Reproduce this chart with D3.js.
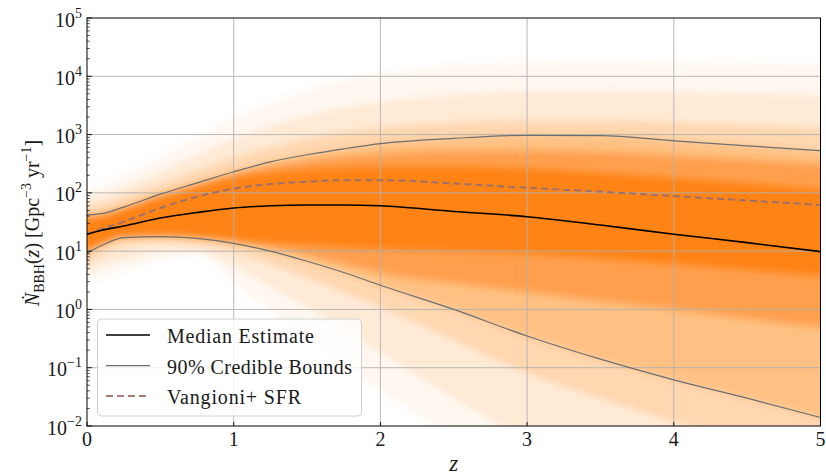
<!DOCTYPE html>
<html><head><meta charset="utf-8">
<script src="https://cdn.jsdelivr.net/npm/d3@7"></script>
<style>
body{margin:0;background:#fff}
svg{display:block}
svg text{font-family:'Liberation Serif','Times New Roman','DejaVu Serif','Noto Serif',serif;fill:#1a1a1a}
</style>
</head><body>
<svg id="c" width="826" height="475" font-family="Liberation Serif, Times New Roman, DejaVu Serif, serif"></svg>
<script>
// ---- data ----
const zGrid   = [0, 0.1, 0.25, 0.5, 0.75, 1, 1.25, 1.5, 1.75, 2, 2.5, 3, 3.5, 4, 4.5, 5];
const median  = [19.5, 22.8, 27, 37, 46, 55, 60, 62, 62, 60, 48, 39, 28, 19.5, 14, 9.8];
const upper90 = [42, 44, 57, 95, 148, 230, 340, 450, 570, 700, 860, 970, 960, 780, 640, 530];
const lower90 = [9.3, 12.5, 17, 17.8, 16.5, 13.6, 10, 6.7, 4.3, 2.6, 1.0, 0.35, 0.14, 0.062, 0.030, 0.014];
const vangioni= [19.5, 24, 32, 55, 86, 118, 142, 155, 165, 165, 145, 122, 105, 88, 74, 62];
// posterior-sample density levels, read as shading bands from the picture
const sampMax = [110, 130, 200, 400, 900, 2000, 3500, 6000, 9000, 11500, 16000, 18000, 18500, 18000, 17500, 16500];
const sampMin = [3, 3.5, 4.5, 7, 8.5, 2.8, 0.9, 0.3, 0.1, 0.04, 0.006, 0.001, 0.0005, 0.0002, 0.0001, 0.0001];
const q99     = [80, 92, 125, 230, 450, 850, 1400, 2100, 2900, 3600, 4800, 5500, 5600, 5400, 5100, 4700];
const q01     = [4.2, 5.5, 7, 10, 10, 5.5, 2.5, 1.1, 0.45, 0.18, 0.03, 0.006, 0.002, 0.001, 0.0005, 0.0002];
const q975    = [60, 66, 85, 140, 240, 400, 600, 850, 1100, 1300, 1600, 1750, 1750, 1600, 1450, 1300];
const q025    = [6, 8.5, 12, 14, 12.5, 9.5, 6, 3.5, 2, 1.1, 0.3, 0.08, 0.03, 0.012, 0.005, 0.002];
const q85     = [40, 43, 56, 92, 140, 210, 290, 360, 420, 470, 520, 530, 500, 430, 370, 310];
const q15     = [9.8, 13, 17.2, 18, 17, 14.5, 11.5, 8.5, 6, 4.2, 2.8, 2.0, 1.4, 1.0, 0.7, 0.5];
const q70     = [36, 39, 50, 82, 125, 180, 220, 250, 270, 280, 280, 260, 220, 180, 145, 115];
const q30     = [11, 14, 18, 19, 18, 15.5, 14, 13, 12, 11, 10, 9, 7.5, 6, 4.8, 3.8];
const xTicks  = [0, 1, 2, 3, 4, 5];
const yExps   = [-2, -1, 0, 1, 2, 3, 4, 5];
const legendLabels = ["Median Estimate", "90% Credible Bounds", "Vangioni+ SFR"];

// ---- layout ----
const L = 87, R = 820.5, T = 18, B = 426;
const FONT = "'Liberation Serif','Times New Roman','DejaVu Serif',serif";
const svg = d3.select("#c");
const x = d3.scaleLinear().domain([0, 5]).range([L, R]);
const y = d3.scaleLog().domain([1e-2, 1e5]).range([B, T]);
const orange = "#ff7f0e";

const defs = svg.append("defs");
defs.append("clipPath").attr("id", "clip")
  .append("rect").attr("x", L).attr("y", T).attr("width", R - L).attr("height", B - T);
defs.append("filter").attr("id", "soft").attr("x", "-2%").attr("y", "-10%").attr("width", "104%").attr("height", "120%")
  .append("feGaussianBlur").attr("stdDeviation", "0 3.5");

const clipG = svg.append("g").attr("clip-path", "url(#clip)");
const bands = clipG.append("g").attr("filter", "url(#soft)");

function band(lo, hi) {
  return d3.area()
    .x((d, i) => x(zGrid[i]))
    .y0((d, i) => y(lo[i]))
    .y1((d, i) => y(hi[i]))
    .curve(d3.curveMonotoneX)(zGrid);
}
function line(vals) {
  return d3.line()
    .x((d, i) => x(zGrid[i]))
    .y((d, i) => y(vals[i]))
    .curve(d3.curveMonotoneX)(zGrid);
}

[[sampMin, sampMax, 0.06], [q01, q99, 0.11], [q025, q975, 0.18],
 [lower90, upper90, 0.26], [q15, q85, 0.5], [q30, q70, 0.87]].forEach(([lo, hi, a]) =>
  bands.append("path").attr("d", band(lo, hi)).attr("fill", orange).attr("fill-opacity", a));

// grid
const grid = svg.append("g").attr("stroke", "#b0b0b0").attr("stroke-width", 0.9);
xTicks.slice(1, -1).forEach(t => grid.append("line")
  .attr("x1", x(t)).attr("x2", x(t)).attr("y1", T).attr("y2", B));
yExps.slice(1, -1).forEach(e => grid.append("line")
  .attr("x1", L).attr("x2", R).attr("y1", y(Math.pow(10, e))).attr("y2", y(Math.pow(10, e))));

// lines
const lines = svg.append("g").attr("clip-path", "url(#clip)");
lines.append("path").attr("d", line(upper90)).attr("fill", "none").attr("stroke", "#6e6e6e").attr("stroke-width", 1.2);
lines.append("path").attr("d", line(lower90)).attr("fill", "none").attr("stroke", "#6e6e6e").attr("stroke-width", 1.2);
lines.append("path").attr("d", line(vangioni)).attr("fill", "none").attr("stroke", "#9e7068")
  .attr("stroke-width", 2).attr("stroke-dasharray", "7,4");
lines.append("path").attr("d", line(median)).attr("fill", "none").attr("stroke", "#000").attr("stroke-width", 1.6);

// axes frame
svg.append("rect").attr("x", L).attr("y", T).attr("width", R - L).attr("height", B - T)
  .attr("fill", "none").attr("stroke", "#000").attr("stroke-width", 1);

function txt(sel) { return sel.attr("font-family", FONT).style("font-family", FONT); }

// y ticks (inward, left side)
const tk = svg.append("g").attr("stroke", "#000").attr("stroke-width", 0.9);
yExps.forEach(e => {
  const yy = y(Math.pow(10, e));
  tk.append("line").attr("x1", L).attr("x2", L + 5).attr("y1", yy).attr("y2", yy);
  if (e < 5) for (let k = 2; k <= 9; k++) {
    const ym = y(k * Math.pow(10, e));
    tk.append("line").attr("x1", L).attr("x2", L + 2.8).attr("y1", ym).attr("y2", ym).attr("stroke-width", 0.7);
  }
  const t = txt(svg.append("text")).attr("x", 82).attr("y", yy + 8.5).attr("text-anchor", "end").style("font-size", "20px");
  t.append("tspan").text("10");
  t.append("tspan").attr("dy", -9).style("font-size", "14px").text(e < 0 ? "\u2212" + (-e) : String(e));
});
// x ticks (inward, bottom)
xTicks.forEach(v => {
  tk.append("line").attr("x1", x(v)).attr("x2", x(v)).attr("y1", B).attr("y2", B - 4);
  txt(svg.append("text")).attr("x", x(v)).attr("y", 446).attr("text-anchor", "middle").style("font-size", "20px").text(v);
});

// axis labels
txt(svg.append("text")).attr("x", x(2.5)).attr("y", 471).attr("text-anchor", "middle")
  .style("font-size", "23px").style("font-style", "italic").text("z");

const yl = txt(svg.append("text")).attr("transform", "translate(39,223) rotate(-90)")
  .attr("text-anchor", "middle").style("font-size", "20px");
yl.append("tspan").style("font-style", "italic").text("\u1E44");
yl.append("tspan").attr("dy", 5).style("font-size", "14px").text("BBH");
yl.append("tspan").attr("dy", -5).text("(");
yl.append("tspan").style("font-style", "italic").text("z");
yl.append("tspan").text(") [Gpc");
yl.append("tspan").attr("dy", -8).style("font-size", "14px").text("\u22123");
yl.append("tspan").attr("dy", 8).text(" yr");
yl.append("tspan").attr("dy", -8).style("font-size", "14px").text("\u22121");
yl.append("tspan").attr("dy", 8).text("]");

// legend
const lg = svg.append("g");
lg.append("rect").attr("x", 97.5).attr("y", 319).attr("width", 264).attr("height", 97).attr("rx", 4)
  .attr("fill", "#fff").attr("fill-opacity", 0.8).attr("stroke", "#d0d0d0").attr("stroke-width", 1);
const rows = [335, 365.7, 396];
const styles = [
  {c: "#000", w: 1.6, d: null},
  {c: "#6e6e6e", w: 1.2, d: null},
  {c: "#a87c74", w: 2, d: "7,4"}
];
const widths = [147, 185, 134];
legendLabels.forEach((lab, i) => {
  const ln = lg.append("line").attr("x1", 106).attr("x2", 150).attr("y1", rows[i]).attr("y2", rows[i])
    .attr("stroke", styles[i].c).attr("stroke-width", styles[i].w);
  if (styles[i].d) ln.attr("stroke-dasharray", styles[i].d);
  txt(lg.append("text")).attr("x", 167).attr("y", rows[i] + 8).style("font-size", "20px")
    .attr("textLength", widths[i]).attr("lengthAdjust", "spacing").text(lab);
});
</script>
</body></html>
